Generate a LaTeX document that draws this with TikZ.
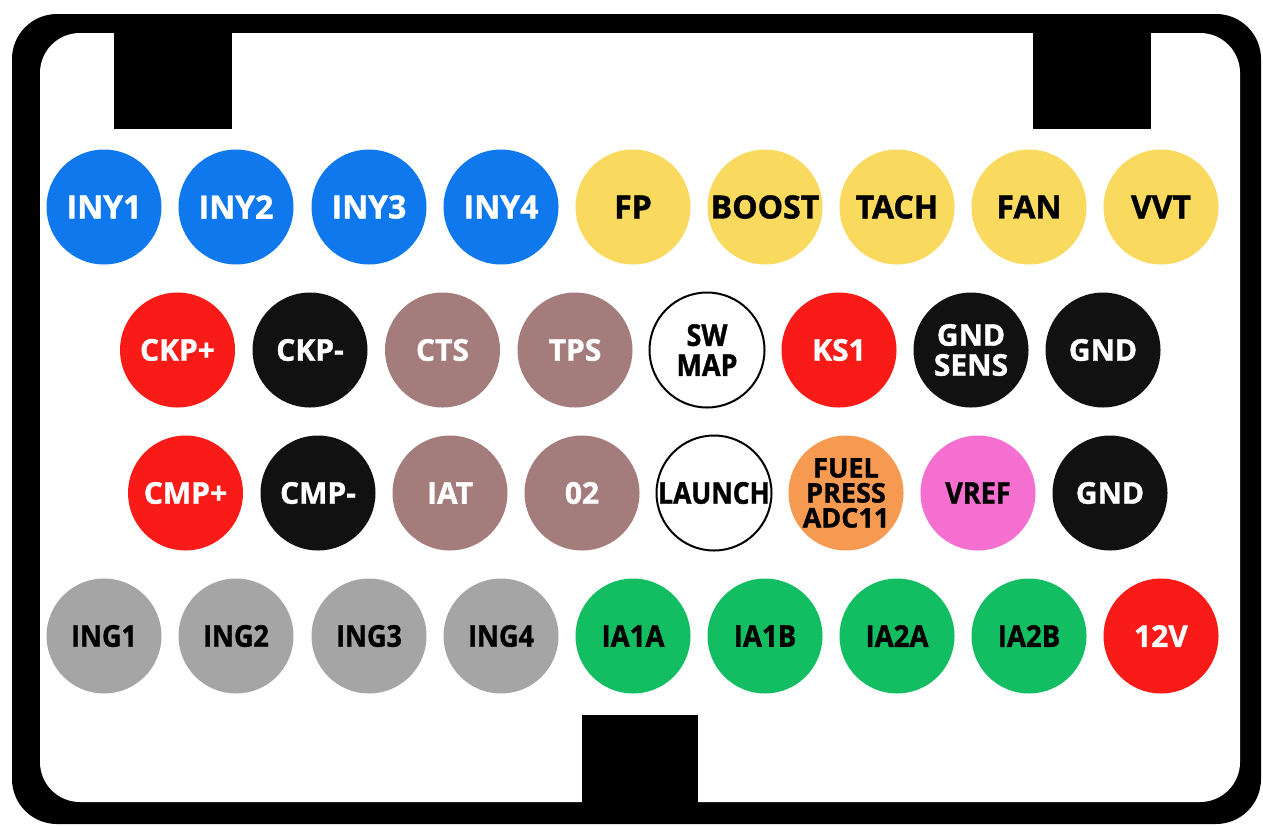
\documentclass[tikz,border=0pt]{standalone}
\usepackage{fontspec}
\setmainfont{Open Sans}[BoldFeatures={FakeBold=1.2}]
\usepackage{graphicx}
\definecolor{cblue}{HTML}{0F78EC}
\definecolor{cyellow}{HTML}{F9DA5E}
\definecolor{cred}{HTML}{F91B17}
\definecolor{cblack}{HTML}{111111}
\definecolor{cmauve}{HTML}{A47C7C}
\definecolor{corange}{HTML}{F59A50}
\definecolor{cpink}{HTML}{F46FD0}
\definecolor{cgray}{HTML}{A5A5A5}
\definecolor{cgreen}{HTML}{13BE63}
\tikzset{
  pinbase/.style={circle, minimum size=115pt, inner sep=0pt, align=center,
    font=\bfseries\fontsize{30}{32}\selectfont},
  bluepin/.style={pinbase, fill=cblue, text=white, font=\bfseries\fontsize{32}{32}\selectfont},
  yellowpin/.style={pinbase, fill=cyellow, text=black, font=\bfseries\fontsize{32}{32}\selectfont},
  redpin/.style={pinbase, fill=cred, text=white},
  blackpin/.style={pinbase, fill=cblack, text=white},
  mauvepin/.style={pinbase, fill=cmauve, text=white},
  whitepin/.style={pinbase, fill=white, draw=black, line width=2pt, text=black},
  orangepin/.style={pinbase, fill=corange, text=black, font=\bfseries\fontsize{27}{25}\selectfont},
  pinkpin/.style={pinbase, fill=cpink, text=black},
  graypin/.style={pinbase, fill=cgray, text=black},
  greenpin/.style={pinbase, fill=cgreen, text=black},
  tab/.style={fill=black}
}
\newcommand{\sq}[2]{\scalebox{#1}[1]{#2}}
\begin{document}
\begin{tikzpicture}[x=1pt,y=-1pt]
\useasboundingbox (0,0) rectangle (1263,825);
\fill[white] (0,0) rectangle (1263,825);
% frame
\fill[black, rounded corners=45pt] (12,14) rectangle (1261,824);
\fill[white, rounded corners=40pt] (40,33) rectangle (1240,802);
% tabs
\fill[tab] (114,30) rectangle (232,129);
\fill[tab] (1033,30) rectangle (1151,129);
\fill[tab] (582,715) rectangle (698,805);
% row 1
\node[bluepin] (iny1) at (104,207) {INY1};
\node[bluepin] (iny2) at (236,207) {INY2};
\node[bluepin] (iny3) at (369,207) {INY3};
\node[bluepin] (iny4) at (501,207) {INY4};
\node[yellowpin] (fp) at (633,207) {FP};
\node[yellowpin] (boost) at (765,207) {BOOST};
\node[yellowpin] (tach) at (897,207) {TACH};
\node[yellowpin] (fan) at (1029,207) {FAN};
\node[yellowpin] (vvt) at (1161,207) {VVT};
% row 2
\node[redpin] (ckpp) at (177.5,350) {CKP+};
\node[blackpin] (ckpm) at (310,350) {CKP-};
\node[mauvepin] (cts) at (442.5,350) {CTS};
\node[mauvepin] (tps) at (575,350) {TPS};
\node[whitepin] (swmap) at (707,350) {\sq{0.9}{SW}\\[-2pt]\sq{0.9}{MAP}};
\node[redpin] (ks1) at (839,350) {KS1};
\node[blackpin] (gndsens) at (971,350) {GND\\[-2pt]SENS};
\node[blackpin] (gnd1) at (1103,350) {GND};
% row 3
\node[redpin] (cmpp) at (185.5,493) {CMP+};
\node[blackpin] (cmpm) at (318,493) {CMP-};
\node[mauvepin] (iat) at (450,493) {IAT};
\node[mauvepin] (o2) at (582,493) {02};
\node[whitepin] (launch) at (714,493) {\sq{0.88}{LAUNCH}};
\node[orangepin] (fuel) at (846,493) {FUEL\\PRESS\\ADC11};
\node[pinkpin] (vref) at (978,493) {\sq{0.9}{VREF}};
\node[blackpin] (gnd2) at (1110,493) {GND};
% row 4
\node[graypin] (ing1) at (104,636) {\sq{0.9}{ING1}};
\node[graypin] (ing2) at (236,636) {\sq{0.9}{ING2}};
\node[graypin] (ing3) at (369,636) {\sq{0.9}{ING3}};
\node[graypin] (ing4) at (501,636) {\sq{0.9}{ING4}};
\node[greenpin] (ia1a) at (633,636) {\sq{0.92}{IA1A}};
\node[greenpin] (ia1b) at (765,636) {\sq{0.92}{IA1B}};
\node[greenpin] (ia2a) at (897,636) {\sq{0.92}{IA2A}};
\node[greenpin] (ia2b) at (1029,636) {\sq{0.92}{IA2B}};
\node[redpin] (v12) at (1161,636) {12V};
\end{tikzpicture}
\end{document}
